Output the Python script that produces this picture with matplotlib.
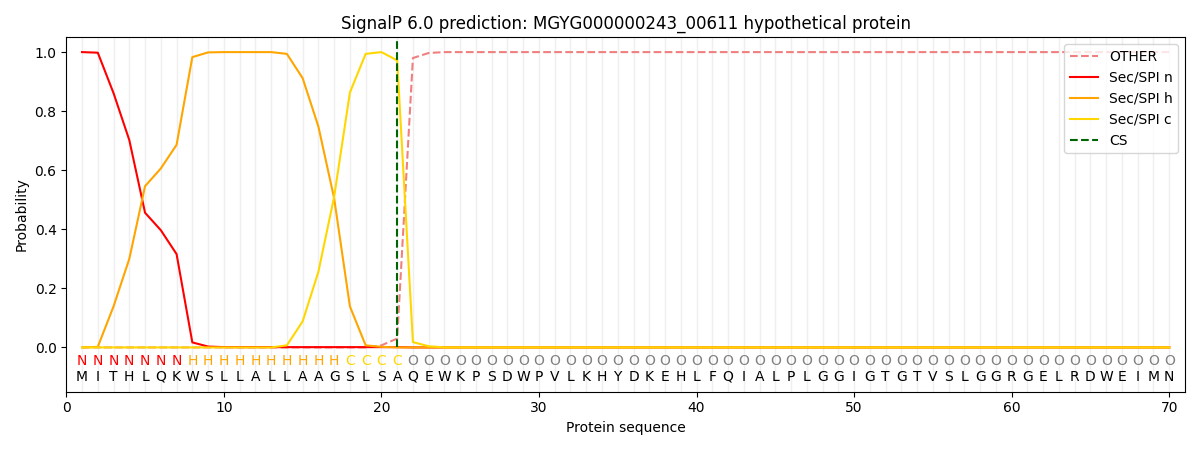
import numpy as np
import matplotlib
matplotlib.use("Agg")
import matplotlib.pyplot as plt

seq = "MITHLQKWSLLALLAAGSLSAQEWKPSDWPVLKHYDKEHLFQIALPLGGIGTGTVSLGGRGELRDWEIMN"
labels = "N" * 7 + "H" * 10 + "C" * 4 + "O" * 49
cs_pos = 21

n_head = [1.0, 0.998, 0.861, 0.702, 0.456, 0.397, 0.316, 0.017, 0.003, 0.001,
          0.001, 0.001, 0.001, 0.001, 0.001, 0.001, 0.001, 0.001, 0.001, 0.001, 0.001]
h_head = [0.0, 0.002, 0.139, 0.30, 0.546, 0.606, 0.686, 0.983, 0.999, 1.0,
          1.0, 1.0, 1.0, 0.994, 0.912, 0.748, 0.505, 0.139, 0.007, 0.002, 0.0]
c_head = [0.0, 0.0, 0.0, 0.0, 0.0, 0.0, 0.0, 0.0, 0.0, 0.0,
          0.0, 0.0, 0.0, 0.007, 0.088, 0.256, 0.51, 0.863, 0.994, 1.0, 0.972, 0.018, 0.004]
o_head = [0.0, 0.0, 0.0, 0.0, 0.0, 0.0, 0.0, 0.0, 0.0, 0.0,
          0.0, 0.0, 0.0, 0.0, 0.0, 0.0, 0.0, 0.0, 0.0, 0.007, 0.03, 0.98, 0.997]

L = len(seq)
pos = np.arange(1, L + 1)
sec_n = np.array(n_head + [0.0] * (L - len(n_head)))
sec_h = np.array(h_head + [0.0] * (L - len(h_head)))
sec_c = np.array(c_head + [0.0] * (L - len(c_head)))
other = np.array(o_head + [1.0] * (L - len(o_head)))

lab_colors = {"N": "red", "H": "orange", "C": "gold", "O": "gray"}

fig, ax = plt.subplots(figsize=(12, 4.5), dpi=100)
for p in pos:
    ax.axvline(p, color="#efefef", lw=1, zorder=0)

ax.plot(pos, other, "--", color="lightcoral", label="OTHER")
ax.plot(pos, sec_n, color="red", label="Sec/SPI n")
ax.plot(pos, sec_h, color="orange", label="Sec/SPI h")
ax.plot(pos, sec_c, color="gold", label="Sec/SPI c")
ax.vlines(cs_pos, 0, 1.05, color="darkgreen", ls="--", label="CS")

for p, aa, lb in zip(pos, seq, labels):
    ax.text(p, -0.047, lb, color=lab_colors[lb], ha="center", va="center", fontsize=10)
    ax.text(p, -0.1, aa, color="black", ha="center", va="center", fontsize=10)

ax.set_xlim(0, 71)
ax.set_ylim(-0.15, 1.05)
ax.set_xlabel("Protein sequence")
ax.set_ylabel("Probability")
ax.set_title("SignalP 6.0 prediction: MGYG000000243_00611 hypothetical protein")
ax.legend(loc="upper right")
fig.tight_layout()
fig.savefig("out.png")
